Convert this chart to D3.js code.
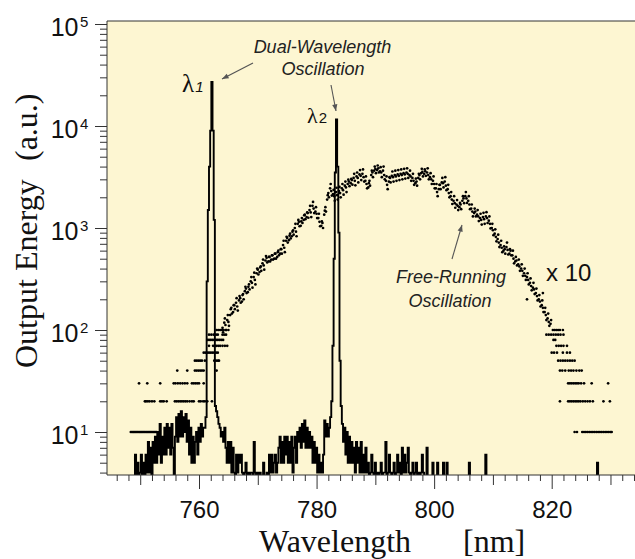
<!DOCTYPE html>
<html lang='en'>
<head>
<meta charset='utf-8'>
<title>Dual-wavelength output spectrum</title>
<script src='https://cdn.jsdelivr.net/npm/d3@7/dist/d3.min.js'></script>
<style>body{margin:0;background:#fff}</style>
</head>
<body>
<script>
// dual-wavelength spectrum, sampled every 0.2 nm from 749.0 nm (2 = below the axis floor)
var dualStart = 749.0, dualStep = 0.2;
var dualValues = [
  2,6,2,5,2,4,6,2,5,2,
  6,4,8,4,7,2,8,5,9,5,
  10,6,12,5,9,6,11,6,12,7,
  11,6,12,7,2,9,14,8,15,9,
  16,9,14,10,15,8,13,6,11,5,
  9,5,8,10,6,11,8,12,9,11,
  11,14,300,1500,4000,9000,27000,9000,1200,18,
  16,14,12,11,9,10,8,11,7,5,
  8,5,8,4,7,4,2,6,4,6,
  5,6,4,2,4,5,2,4,2,4,
  4,2,8,4,2,4,2,4,2,2,
  5,2,2,4,2,6,4,6,4,5,
  6,4,5,7,9,5,8,5,9,6,
  9,5,8,5,9,4,7,9,5,10,
  8,11,7,12,8,13,7,11,7,10,
  7,9,5,8,5,7,4,6,4,5,
  4,6,13,9,12,9,11,14,20,70,
  500,3500,11600,4000,900,50,18,12,8,11,
  6,10,5,9,5,8,5,7,4,8,
  5,7,4,8,4,6,4,7,4,5,
  2,4,6,4,2,5,2,4,2,4,
  5,2,4,4,8,2,4,6,4,2,
  4,5,2,4,6,4,5,2,7,4,
  6,4,5,7,4,2,4,5,2,4,
  5,2,4,2,4,6,4,2,2,7,
  2,2,2,2,5,2,2,2,5,2,
  2,2,2,5,2,2,5,2,2,2,
  2,2,2,2,2,2,2,2,2,2,
  2,2,2,2,2,5,2,2,2,2,
  2,2,2,2,2,2,2,2,2,6,
  2,2,2,2,2,2,2,2,2,2,
  2,2,2,2,2,2,2,2,2,2,
  2,2,2,2,2,2,2,2,2,2,
  2,2,2,2,2,2,2,2,2,2,
  2,2,2,2,2,2,2,2,2,2,
  2,2,2,2,2,2,2,2,2,2,
  2,2,2,2,2,2,2,2,2,2,
  2,2,2,2,2,2,2,2,2,2,
  2,2,2,2,2,2,2,2,2,2,
  2,2,2,2,5,2,2,2,2,2,
  2
];

// free-running spectrum (x10): quantised low levels, [level, wavelengths]
var freeLeftRows = [
  [10, [748.4,748.6,748.8,749.0,749.2,749.4,749.6,749.8,750.0,750.2,750.4,750.6,750.8,751.0,751.2,751.4,751.6,751.8,752.0,752.2,752.4,752.6,752.8]],
  [20, [750.8,751.0,751.3,751.6,752.0,752.4,753.4,753.7,754.0,754.5,755.9,756.2,756.5,756.8,757.1,757.4,757.7,758.0,758.4,758.8,759.1,760.0,760.3,760.7,761.0,761.4,762.2]],
  [30, [749.8,751.2,753.4,755.7,756.0,756.4,756.8,757.2,757.6,758.0,758.8,759.1,759.4,759.7,760.0,760.8]],
  [40, [756.3,758.0,759.3,759.6,759.9,760.2,760.5,760.8,763.0]],
  [50, [759.3,759.6,759.9,760.2,760.5,761.0,762.6,762.9,763.2,763.4]],
  [60, [760.8,761.1,761.4,761.7,762.0,762.3,762.6,762.9,763.2]],
  [70, [761.7,762.4,762.7,763.0,763.3,763.6,764.0,764.4,764.8]],
  [80, [761.4,761.7,762.0,762.3,762.6,762.9,763.2,763.5,763.8,764.1]],
  [90, [761.7,762.1,762.5,762.9,763.2,764.0,764.3,764.6]],
  [100, [763.0,763.3,763.6,763.9,764.2,764.6,765.0]]
];
var freeRightRows = [
  [100, [820.2,820.5,820.8,821.1,821.4,821.9]],
  [90, [819.1,819.5,819.9,820.3,820.7,821.1,821.5,822.0]],
  [80, [820.3,820.6]],
  [70, [820.8,821.2,821.6,822.0,822.6]],
  [60, [820.0,820.4,820.9,821.9,822.6,823.1]],
  [50, [821.1,821.5,821.9,822.3,822.7,823.1,823.5,823.9]],
  [40, [821.4,821.8,822.3,822.9,823.3,823.7,824.2,824.7,825.1]],
  [30, [822.8,823.1,823.4,823.7,824.0,824.3,824.6,825.0,825.5,826.8,829.6]],
  [20, [821.4,822.8,823.1,823.4,823.7,824.0,824.3,824.6,824.9,825.3,825.7,826.1,826.5,827.0,828.8,829.9]],
  [10, [823.9,824.3,825.2,825.5,825.8,826.1,826.4,826.7,827.0,827.3,827.6,827.9,828.2,828.5,828.8,829.1,829.4,829.7,830.0,830.2]]
];
// free-running spectrum (x10): main band, [nm, value]
var freeHump = [
  [764.0,105],[764.3,118],[764.5,112],[764.8,125],[765.0,120],[765.3,140],[765.5,165],[765.8,150],
  [766.0,175],[766.3,185],[766.5,170],[766.8,195],[767.0,205],[767.3,190],[767.5,225],[767.8,240],
  [768.0,255],[768.3,235],[768.5,280],[768.8,300],[769.0,290],[769.3,330],[769.5,310],[769.8,360],
  [770.0,390],[770.3,370],[770.5,420],[770.8,450],[771.0,430],[771.3,480],[771.5,510],[771.8,470],
  [772.0,520],[772.3,490],[772.5,540],[772.8,500],[773.0,560],[773.3,520],[773.5,600],[773.8,560],
  [774.0,620],[774.3,680],[774.5,640],[774.8,750],[775.0,800],[775.3,760],[775.5,880],[775.8,830],
  [776.0,950],[776.3,1000],[776.5,920],[776.8,1100],[777.0,1150],[777.3,1050],[777.5,1250],[777.8,1200],
  [778.0,1350],[778.3,1280],[778.5,1400],[778.8,1500],[779.0,1420],[779.3,1650],[779.5,1550],[779.8,1450],
  [780.0,1380],[780.3,1250],[780.5,1150],[780.8,1050],[781.0,1120],[781.3,1350],[781.5,1600],[781.8,1900],
  [782.0,2200],[782.3,2450],[782.5,2300],[782.8,2150],[783.0,2050],[783.3,2250],[783.5,2100],[783.8,2300],
  [784.0,2200],[784.3,2450],[784.5,2350],[784.8,2600],[785.0,2500],[785.3,2700],[785.5,2850],[785.8,2750],
  [786.0,2950],[786.3,3100],[786.5,2900],[786.8,3200],[787.0,3100],[787.3,3350],[787.5,3250],[787.8,3400],
  [788.0,3150],[788.3,2900],[788.5,2700],[788.8,2500],[789.0,2900],[789.3,3300],[789.5,3500],[789.8,3650],
  [790.0,3800],[790.3,3700],[790.5,3850],[790.8,3600],[791.0,3500],[791.3,3650],[791.5,3300],[791.8,2900],
  [792.0,2650],[792.3,2850],[792.5,3100],[792.8,3250],[793.0,3150],[793.3,3300],[793.5,3200],[793.8,3350],
  [794.0,3250],[794.3,3400],[794.5,3300],[794.8,3450],[795.0,3350],[795.3,3500],[795.5,3400],[795.8,3300],
  [796.0,3200],[796.3,3100],[796.5,2900],[796.8,2750],[797.0,2850],[797.3,3100],[797.5,3300],[797.8,3450],
  [798.0,3550],[798.3,3400],[798.5,3600],[798.8,3500],[799.0,3300],[799.3,3150],[799.5,3000],[799.8,2900],
  [800.0,2700],[800.3,2450],[800.5,2250],[800.8,2400],[801.0,2650],[801.3,2800],[801.5,2750],[801.8,2850],
  [802.0,2600],[802.3,2400],[802.5,2200],[802.8,2050],[803.0,1900],[803.3,1850],[803.5,1750],[803.8,1700],
  [804.0,1650],[804.3,1600],[804.5,1700],[804.8,1850],[805.0,1950],[805.3,2050],[805.5,1950],[805.8,1850],
  [806.0,1700],[806.3,1550],[806.5,1450],[806.8,1400],[807.0,1450],[807.3,1350],[807.5,1300],[807.8,1250],
  [808.0,1200],[808.3,1280],[808.5,1220],[808.8,1300],[809.0,1250],[809.3,1180],[809.5,1100],[809.8,1000],
  [810.0,950],[810.3,880],[810.5,820],[810.8,780],[811.0,720],[811.3,680],[811.5,640],[811.8,600],
  [812.0,620],[812.3,650],[812.5,610],[812.8,560],[813.0,600],[813.3,540],[813.5,500],[813.8,470],
  [814.0,480],[814.3,440],[814.5,420],[814.8,400],[815.0,380],[815.3,360],[815.5,340],[815.8,330],
  [816.0,310],[816.3,290],[816.5,270],[816.8,260],[817.0,250],[817.3,230],[817.5,215],[817.8,200],
  [818.0,190],[818.3,175],[818.5,165],[818.8,150],[819.0,140],[819.3,130],[819.5,120],[819.8,115],
  [815.8,200],[818.5,230]
];
// free-running spectrum (x10): second pass of scattered points across the band
var freeHumpB = [
  [764.1,95],[764.4,130],[764.6,100],[764.9,140],[765.1,110],[765.4,160],[765.6,145],[765.9,175],
  [766.1,160],[766.4,205],[766.6,155],[766.9,215],[767.1,185],[767.4,220],[767.6,200],[767.9,265],
  [768.1,230],[768.4,265],[768.6,250],[768.9,330],[769.1,260],[769.4,365],[769.6,280],[769.9,400],
  [770.1,350],[770.4,410],[770.6,380],[770.9,490],[771.1,390],[771.4,530],[771.6,460],[771.9,520],
  [772.1,470],[772.4,540],[772.6,490],[772.9,560],[773.1,500],[773.4,580],[773.6,540],[773.9,620],
  [774.1,560],[774.4,750],[774.6,580],[774.9,820],[775.1,720],[775.4,840],[775.6,790],[775.9,920],
  [776.1,860],[776.4,1100],[776.6,830],[776.9,1200],[777.1,1040],[777.4,1160],[777.6,1120],[777.9,1330],
  [778.1,1220],[778.4,1420],[778.6,1260],[778.9,1650],[779.1,1280],[779.4,1800],[779.6,1400],[779.9,1600],
  [780.1,1250],[780.4,1380],[780.6,1040],[780.9,1160],[781.1,1000],[781.4,1480],[781.6,1450],[781.9,2100],
  [782.1,2000],[782.4,2700],[782.6,2080],[782.9,2370],[783.1,1850],[783.4,2480],[783.6,1900],[783.9,2530],
  [784.1,2000],[784.4,2700],[784.6,2120],[784.9,2850],[785.1,2250],[785.4,2980],[785.6,2570],[785.9,3030],
  [786.1,2660],[786.4,3400],[786.6,2620],[786.9,3500],[787.1,2800],[787.4,3700],[787.6,2950],[787.9,3750],
  [788.1,2850],[788.4,3200],[788.6,2450],[788.9,2750],[789.1,2600],[789.4,3650],[789.6,3150],[789.9,4000],
  [790.1,3450],[790.4,4100],[790.6,3500],[790.9,3950],[791.1,3150],[791.4,4000],[791.6,3000],[791.9,3200],
  [792.1,2400],[792.4,3150],[792.6,2800],[792.9,3580],[793.1,2850],[793.4,3650],[793.6,2900],[793.9,3700],
  [794.1,2950],[794.4,3750],[794.6,3000],[794.9,3800],[795.1,3050],[795.4,3850],[795.6,3100],[795.9,3650],
  [796.1,2900],[796.4,3400],[796.6,2650],[796.9,3050],[797.1,2600],[797.4,3400],[797.6,3000],[797.9,3800],
  [798.1,3200],[798.4,3750],[798.6,3250],[798.9,3850],[799.1,3000],[799.4,3450],[799.6,2700],[799.9,3200],
  [800.1,2450],[800.4,2700],[800.6,2050],[800.9,2650],[801.1,2400],[801.4,3100],[801.6,2500],[801.9,3150],
  [802.1,2350],[802.4,2650],[802.6,2000],[802.9,2250],[803.1,1720],[803.4,2050],[803.6,1580],[803.9,1880],
  [804.1,1500],[804.4,1760],[804.6,1530],[804.9,2050],[805.1,1750],[805.4,2250],[805.6,1760],[805.9,2050],
  [806.1,1530],[806.4,1700],[806.6,1300],[806.9,1550],[807.1,1300],[807.4,1500],[807.6,1170],[807.9,1380],
  [808.1,1080],[808.4,1410],[808.6,1100],[808.9,1430],[809.1,1120],[809.4,1300],[809.6,990],[809.9,1100],
  [810.1,850],[810.4,970],[810.6,740],[810.9,860],[811.1,650],[811.4,750],[811.6,580],[811.9,660],
  [812.1,560],[812.4,720],[812.6,550],[812.9,620],[813.1,540],[813.4,600],[813.6,450],[813.9,520],
  [814.1,430],[814.4,490],[814.6,380],[814.9,440],[815.1,340],[815.4,400],[815.6,310],[815.9,360],
  [816.1,280],[816.4,320],[816.6,245],[816.9,290],[817.1,225],[817.4,255],[817.6,195],[817.9,220],
  [818.1,170],[818.4,195],[818.6,150],[818.9,165],[819.1,125],[819.4,145],[819.6,110],[819.9,125]
];

var xLabelTicks = [760, 780, 800, 820];
var yExponents = [1, 2, 3, 4, 5];

var width = 635, height = 559;
var plotL = 107, plotT = 21, plotB = 475, plotR = 635;

var svg = d3.select('body').append('svg').attr('width', width).attr('height', height)
  .style('font-family', "'Liberation Sans', Arial, Helvetica, sans-serif");

var x = d3.scaleLinear().domain([760, 820]).range([199, 551.7]);
var y = d3.scaleLog().domain([1e1, 1e5]).range([432, 24]);

// plot background
svg.append('rect').attr('x', plotL).attr('y', plotT).attr('width', plotR - plotL).attr('height', plotB - plotT)
  .attr('fill', '#fdf6d2');

svg.append('clipPath').attr('id', 'plotclip').append('rect')
  .attr('x', plotL).attr('y', plotT).attr('width', plotR - plotL).attr('height', plotB - plotT);

var plot = svg.append('g').attr('clip-path', 'url(#plotclip)');

// free-running dots
var freePts = [];
freeLeftRows.concat(freeRightRows).forEach(function(r) {
  r[1].forEach(function(nm) { freePts.push([nm, r[0]]); });
});
freePts = freePts.concat(freeHump, freeHumpB);

plot.selectAll('circle.free').data(freePts).enter().append('circle')
  .attr('class', 'free')
  .attr('cx', d => x(d[0]))
  .attr('cy', d => y(d[1]))
  .attr('r', 1.35)
  .attr('fill', '#000');

// dual-wavelength line (stepped, as the spectrometer bins)
var dualPts = dualValues.map((v, i) => [dualStart + i * dualStep, v]);
var line = d3.line().curve(d3.curveStep).x(d => x(d[0])).y(d => y(d[1]));
plot.append('path').datum(dualPts)
  .attr('d', line)
  .attr('fill', 'none')
  .attr('stroke', '#000')
  .attr('stroke-width', 1.9)
  .attr('stroke-linejoin', 'miter');

// frame
svg.append('line').attr('x1', plotL).attr('x2', plotR).attr('y1', plotT).attr('y2', plotT).attr('stroke', '#333');
svg.append('line').attr('x1', plotL).attr('x2', plotL).attr('y1', plotT).attr('y2', plotB).attr('stroke', '#333');
svg.append('line').attr('x1', plotL).attr('x2', plotR).attr('y1', plotB).attr('y2', plotB).attr('stroke', '#333');

// x ticks
var minorX = d3.range(746, 835, 2).filter(v => v % 10 != 0);
var midX = [750, 770, 790, 810, 830];
function xTicks(vals, size) {
  var g = svg.append('g').attr('transform', 'translate(0,' + plotB + ')')
    .call(d3.axisBottom(x).tickValues(vals).tickSize(size).tickFormat(''));
  g.select('.domain').remove();
  g.selectAll('line').attr('stroke', '#333');
  return g;
}
xTicks(minorX, 6);
xTicks(midX, 10);
var gx = svg.append('g').attr('transform', 'translate(0,' + plotB + ')')
  .call(d3.axisBottom(x).tickValues(xLabelTicks).tickSize(14).tickPadding(12).tickFormat(d3.format('d')));
gx.select('.domain').remove();
gx.selectAll('line').attr('stroke', '#333');
gx.selectAll('text').attr('font-size', 24).attr('fill', '#111')
  .attr('font-family', "'Liberation Sans', Arial, sans-serif");

// y ticks
var minorY = [];
[0, 1, 2, 3, 4].forEach(function(e) {
  for (var m = 2; m <= 9; m++) {
    var v = m * Math.pow(10, e);
    if (y(v) <= plotB) minorY.push(v);
  }
});
var gyMinor = svg.append('g').attr('transform', 'translate(' + plotL + ',0)')
  .call(d3.axisLeft(y).tickValues(minorY).tickSize(7).tickFormat(''));
gyMinor.select('.domain').remove();
gyMinor.selectAll('line').attr('stroke', '#333');
var gyMajor = svg.append('g').attr('transform', 'translate(' + plotL + ',0)')
  .call(d3.axisLeft(y).tickValues(yExponents.map(e => Math.pow(10, e))).tickSize(12).tickFormat(''));
gyMajor.select('.domain').remove();
gyMajor.selectAll('line').attr('stroke', '#333');

var ylab = svg.append('g');
yExponents.forEach(function(e) {
  var ty = y(Math.pow(10, e));
  ylab.append('text').attr('x', 78.5).attr('y', ty + 11.5).attr('text-anchor', 'end')
    .attr('font-size', 25).attr('fill', '#111').text('10');
  ylab.append('text').attr('x', 80).attr('y', ty + 3).attr('font-size', 15).attr('fill', '#111').text(e);
});

// axis titles
var serif = "'Liberation Serif', 'Times New Roman', serif";
svg.append('text').attr('x', 259).attr('y', 552).attr('font-family', serif).attr('font-size', 32)
  .attr('fill', '#111').text('Wavelength');
svg.append('text').attr('x', 463).attr('y', 552).attr('font-family', serif).attr('font-size', 32)
  .attr('fill', '#111').text('[nm]');
svg.append('text').attr('transform', 'translate(37,368) rotate(-90)').attr('font-family', serif)
  .attr('font-size', 32).attr('fill', '#111').text('Output Energy');
svg.append('text').attr('transform', 'translate(37,161) rotate(-90)').attr('font-family', serif)
  .attr('font-size', 32).attr('fill', '#111').text('(a.u.)');

// annotations
var defs = svg.append('defs');
defs.append('marker').attr('id', 'arr').attr('viewBox', '0 0 10 10').attr('refX', 10).attr('refY', 5)
  .attr('markerWidth', 9).attr('markerHeight', 6).attr('orient', 'auto')
  .append('path').attr('d', 'M0,1L10,5L0,9Z').attr('fill', '#555');

function arrow(x1, y1, x2, y2) {
  svg.append('line').attr('x1', x1).attr('y1', y1).attr('x2', x2).attr('y2', y2)
    .attr('stroke', '#555').attr('stroke-width', 1.1).attr('marker-end', 'url(#arr)');
}
function note(tx, ty, str) {
  svg.append('text').attr('x', tx).attr('y', ty).attr('text-anchor', 'middle')
    .attr('font-size', 18).attr('font-style', 'italic').attr('fill', '#222').text(str);
}
note(322.5, 53, 'Dual-Wavelength');
note(323, 75, 'Oscillation');
arrow(253, 63, 222, 79);
arrow(331, 85, 336, 111);

note(451, 283, 'Free-Running');
note(450, 307, 'Oscillation');
arrow(452, 259, 462, 225);

svg.append('text').attr('x', 546).attr('y', 281).attr('font-size', 24).attr('fill', '#111').text('x 10');

var l1 = svg.append('text').attr('x', 182).attr('y', 92).attr('font-family', serif).attr('font-size', 25).attr('fill', '#111');
l1.append('tspan').text('λ');
l1.append('tspan').attr('font-size', 15).attr('font-style', 'italic')
  .attr('font-family', "'Liberation Sans', Arial, sans-serif").attr('dx', 1).text('1');
var l2 = svg.append('text').attr('x', 307).attr('y', 123).attr('font-family', serif).attr('font-size', 22).attr('fill', '#111');
l2.append('tspan').text('λ');
l2.append('tspan').attr('font-size', 15)
  .attr('font-family', "'Liberation Sans', Arial, sans-serif").attr('dx', 1).text('2');
</script>
</body>
</html>
